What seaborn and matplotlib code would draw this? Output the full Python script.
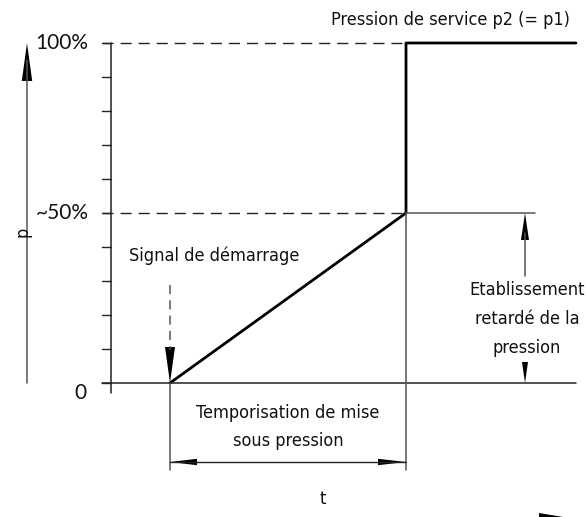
import numpy as np
import matplotlib
matplotlib.use("Agg")
import matplotlib.pyplot as plt
import seaborn as sns
from matplotlib.patches import Polygon

# ---- data ----
t_curve = [2.0, 10.0, 10.0, 15.76]      # time points of the pressure curve
p_curve = [0, 50, 100, 100]              # pressure in %
T_START = 2.0                            # start signal
T_END = 10.0                             # end of delay
P_HALF = 50
P_FULL = 100
p_ticks = list(range(0, 101, 10))
tick_labels = {100: "100%", 50: "~50%", 0: "0"}

sns.set_theme(style="white")
plt.rcParams['font.family'] = ['DejaVu Sans']

W, H = 586, 517
fig = plt.figure(figsize=(W / 100, H / 100), dpi=100)
ax = fig.add_axes([0, 0, 1, 1])
# pixel mapping: x_px = 111 + 29.5 t ; y_px = 383 - 3.4 p
XA, XB = 111.0, 29.5
YA, YB = 383.0, 3.4
ax.set_xlim(-XA / XB, (W - XA) / XB)
ax.set_ylim((YA - H) / YB, YA / YB)
ax.axis("off")

def tx(px):
    return (px - XA) / XB

def py(px):
    return (YA - px) / YB

def head(xt, yt, direction, length_px, half_px, color="black"):
    dxp, dyp = direction
    lx, ly = -dxp * length_px / XB, -dyp * length_px / YB
    nx, ny = -dyp * half_px / XB, dxp * half_px / YB
    pts = [(xt, yt), (xt + lx + nx, yt + ly + ny), (xt + lx - nx, yt + ly - ny)]
    ax.add_patch(Polygon(pts, closed=True, color=color, lw=0, clip_on=False))

AX_COL = "#222222"
EXT_COL = "#555555"

# main curve
sns.lineplot(x=t_curve, y=p_curve, sort=False, estimator=None, color="black",
             lw=2.0, ax=ax)

# y axis line and ticks
x0 = 0.0
ax.plot([x0, x0], [P_FULL, py(393)], color=AX_COL, lw=1.1)
for p in p_ticks:
    ax.plot([tx(102), x0], [p, p], color=AX_COL, lw=1.0)

# zero line
ax.plot([tx(102), t_curve[-1]], [0, 0], color=AX_COL, lw=1.1)

# dashed reference lines
for p in (P_HALF, P_FULL):
    ax.plot([tx(102), T_END], [p, p], color=AX_COL, lw=1.0, dashes=(8, 5))

# solid 50% line to the right
x_dim = tx(525)
ax.plot([T_END, tx(535)], [P_HALF, P_HALF], color=EXT_COL, lw=1.1)

# extension lines
y_ext = py(470)
ax.plot([T_END, T_END], [P_HALF, y_ext], color=EXT_COL, lw=1.1)
ax.plot([T_START, T_START], [0, y_ext], color=EXT_COL, lw=1.1)

# horizontal dimension arrow
y_dim = py(462)
ax.plot([T_START, T_END], [y_dim, y_dim], color=AX_COL, lw=1.0)
head(T_START, y_dim, (-1, 0), 27, 3.2)
head(T_END, y_dim, (1, 0), 28, 3.2)

# start signal dashed arrow
ax.plot([T_START, T_START], [py(285), py(350)], color=EXT_COL, lw=1.1,
        dashes=(6, 4))
head(T_START, 0, (0, -1), 36, 5)

# right vertical dimension
ax.plot([x_dim, x_dim], [P_HALF - 6, py(276)], color=EXT_COL, lw=1.1)
head(x_dim, P_HALF, (0, 1), 27, 4)
head(x_dim, 0, (0, -1), 21, 3)

# p axis arrow
xp = tx(27)
ax.plot([xp, xp], [0, P_FULL - 5], color=EXT_COL, lw=1.1)
head(xp, P_FULL, (0, 1), 38, 5.2)

# t axis arrow (bottom right, partially cut)
head(tx(575), py(519), (1, 0), 36, 6)

# tick labels
for p, lab in tick_labels.items():
    yy = p if p != 0 else py(393)
    xx = tx(62) if p != 0 else tx(80)
    ax.text(xx, yy, lab, ha="center", va="center", fontsize=15,
            family=["Lato", "DejaVu Sans"], color="#111111")

TXT = dict(fontsize=13, color="#111111", family=["DejaVu Sans"],
           fontstretch="condensed")
ax.text(tx(450), py(20), "Pression de service p2 (= p1)", ha="center", va="center", **TXT)
ax.text(tx(214), py(256), "Signal de démarrage", ha="center", va="center", **TXT)
ax.text(tx(527), py(319), "Etablissement\nretardé de la\npression", ha="center",
        va="center", linespacing=1.8, **TXT)
ax.text((T_START + T_END) / 2, py(427), "Temporisation de mise\nsous pression",
        ha="center", va="center", linespacing=1.75, **TXT)
ax.text(tx(323), py(499), "t", ha="center", va="center", **TXT)
ax.text(tx(22), py(232), "p", ha="center", va="center", rotation=90, **TXT)

fig.savefig("out.png", dpi=100)
